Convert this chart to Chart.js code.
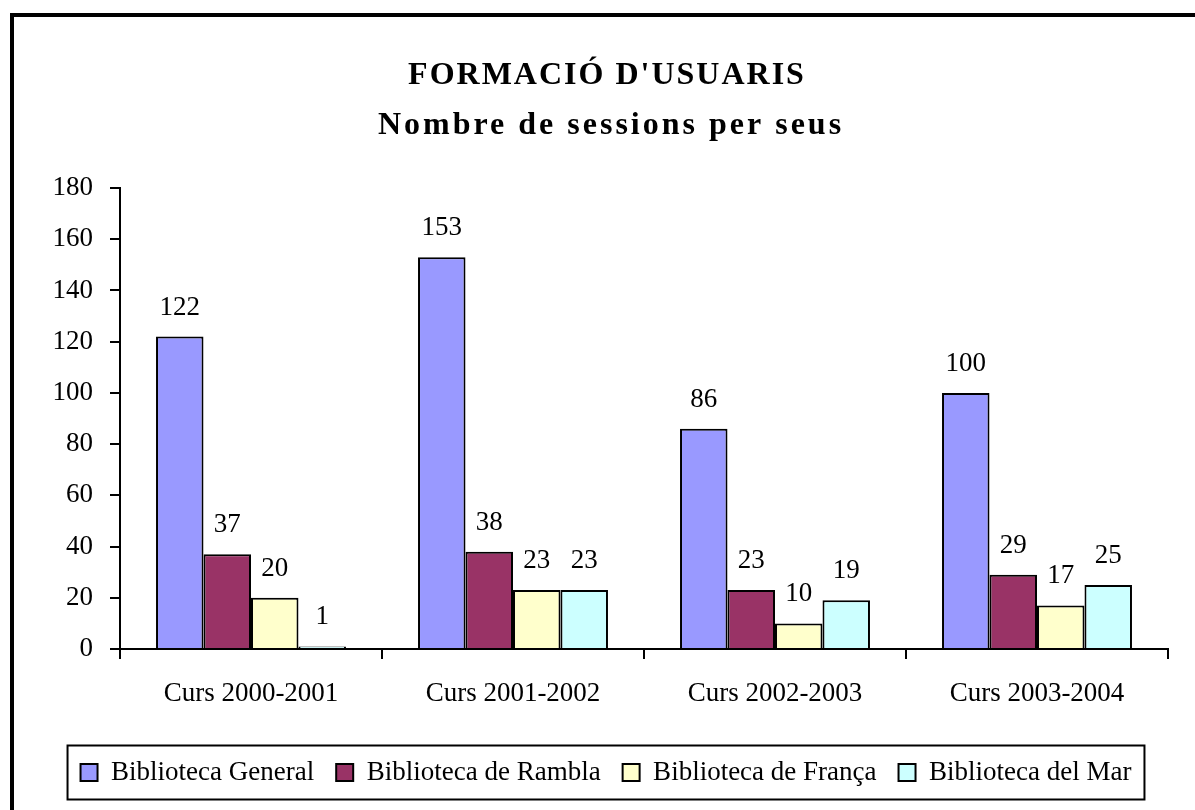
<!DOCTYPE html>
<html>
<head>
<meta charset="utf-8">
<script src="https://cdn.jsdelivr.net/npm/chart.js@4/dist/chart.umd.min.js"></script>
<style>
  html, body { margin: 0; padding: 0; background: #fff; }
  #wrap { position: relative; width: 1195px; height: 810px; overflow: hidden; }
  #frame { position: absolute; left: 10px; top: 13px; width: 1300px; height: 900px;
           border-left: 4px solid #000; border-top: 4px solid #000; }
  #chart { position: absolute; left: 0; top: 0; }
</style>
</head>
<body>
<div id="wrap">
  <div id="frame"></div>
  <canvas id="chart" width="1195" height="810"></canvas>
</div>
<script>
// dades llegides del gràfic
const categories = ['Curs 2000-2001', 'Curs 2001-2002', 'Curs 2002-2003', 'Curs 2003-2004'];
const seriesNames = ['Biblioteca General', 'Biblioteca de Rambla', 'Biblioteca de França', 'Biblioteca del Mar'];
const general = [122, 153, 86, 100];
const rambla = [37, 38, 23, 29];
const franca = [20, 23, 10, 17];
const mar = [1, 23, 19, 25];
const yMin = 0;
const yMax = 180;
const yStep = 20;
const titleText = "FORMACIÓ D'USUARIS";
const subtitleText = 'Nombre de sessions per seus';

const colors = ['#9999FF', '#993366', '#FFFFCC', '#CCFFFF'];
const serif = '"Liberation Serif", "Times New Roman", serif';
const padBottom = 14;

// titol en dues linies
const titlePlugin = {
  id: 'titlePlugin',
  afterDraw(chart) {
    const ctx = chart.ctx;
    ctx.save();
    ctx.fillStyle = '#000';
    ctx.textAlign = 'center';
    ctx.textBaseline = 'alphabetic';
    ctx.font = 'bold 32px ' + serif;
    ctx.letterSpacing = '2px';
    ctx.fillText(titleText, 607, 84);
    ctx.letterSpacing = '3px';
    ctx.fillText(subtitleText, 611, 134);
    ctx.restore();
  }
};

// valors damunt de cada barra
const valueLabels = {
  id: 'valueLabels',
  afterDatasetsDraw(chart) {
    const ctx = chart.ctx;
    ctx.save();
    ctx.font = '27px ' + serif;
    ctx.fillStyle = '#000';
    ctx.textAlign = 'center';
    ctx.textBaseline = 'alphabetic';
    chart.data.datasets.forEach((ds, i) => {
      chart.getDatasetMeta(i).data.forEach((bar, j) => {
        ctx.fillText(ds.data[j], bar.x, bar.y - 22);
      });
    });
    ctx.restore();
  }
};

// marc al voltant de la llegenda
const legendFrame = {
  id: 'legendFrame',
  afterDraw(chart) {
    const boxes = chart.legend.legendHitBoxes;
    if (!boxes || !boxes.length) return;
    let left = Infinity, right = -Infinity;
    boxes.forEach(b => {
      left = Math.min(left, b.left);
      right = Math.max(right, b.left + b.width);
    });
    const cy = boxes[0].top + boxes[0].height / 2;
    const ctx = chart.ctx;
    ctx.save();
    ctx.strokeStyle = '#000';
    ctx.lineWidth = 2;
    ctx.strokeRect(left - 13, cy - 27, right - left + 26, 54);
    ctx.restore();
  }
};

const datasets = [general, rambla, franca, mar].map((values, i) => ({
  label: seriesNames[i],
  data: values,
  backgroundColor: colors[i],
  borderColor: '#000',
  borderWidth: 2,
  borderSkipped: 'bottom',
  categoryPercentage: 0.725,
  barPercentage: 1.0
}));

new Chart(document.getElementById('chart'), {
  type: 'bar',
  data: { labels: categories, datasets: datasets },
  plugins: [titlePlugin, valueLabels, legendFrame],
  options: {
    responsive: false,
    animation: false,
    devicePixelRatio: 1,
    layout: { padding: { top: 188, left: 17, right: 0, bottom: padBottom } },
    plugins: {
      title: { display: false },
      tooltip: { enabled: false },
      legend: {
        position: 'bottom',
        labels: {
          color: '#000',
          font: { family: serif, size: 27 },
          boxWidth: 17,
          boxHeight: 17,
          padding: 22
        }
      }
    },
    scales: {
      x: {
        grid: { offset: true, drawOnChartArea: false, tickLength: 10, color: '#000', lineWidth: 2 },
        border: { color: '#000', width: 2 },
        ticks: { color: '#000', font: { family: serif, size: 27 }, padding: 19 },
        afterFit(s) {
          s.height = 810 - padBottom - s.chart.legend.height - 649;
        }
      },
      y: {
        min: yMin,
        max: yMax,
        ticks: { stepSize: yStep, color: '#000', font: { family: serif, size: 27 }, padding: 17 },
        grid: { drawOnChartArea: false, tickLength: 10, color: '#000', lineWidth: 2 },
        border: { color: '#000', width: 2 },
        afterFit(s) { s.width = 103; }
      },
      yRight: {
        position: 'right',
        display: true,
        ticks: { display: false },
        grid: { display: false, drawTicks: false },
        border: { display: false },
        afterFit(s) { s.width = 27; }
      }
    }
  }
});
</script>
</body>
</html>
